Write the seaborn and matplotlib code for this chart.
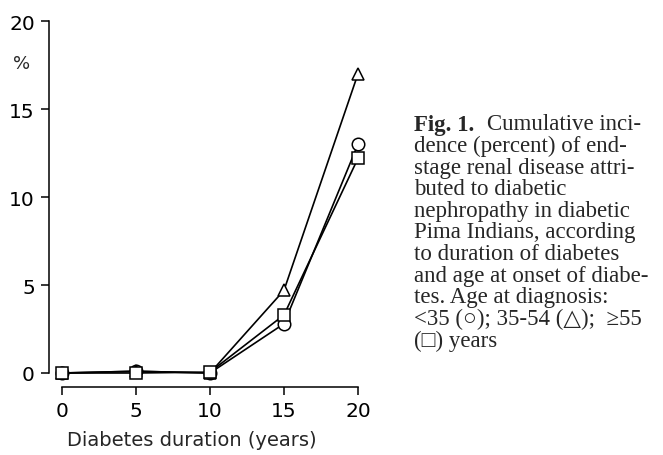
import matplotlib

matplotlib.use("Agg")  # headless backend
import matplotlib.pyplot as plt  # noqa: E402
import seaborn as sns  # noqa: E402
import pandas as pd  # noqa: E402

# data
duration = [0, 5, 10, 15, 20]
under_35 = [0.0, 0.1, 0.0, 2.8, 13.0]
age_35_54 = [0.0, 0.1, 0.0, 4.7, 17.0]
over_55 = [0.0, 0.0, 0.05, 3.3, 12.2]

yticks = [0, 5, 10, 15, 20]
xticks = [0, 5, 10, 15, 20]

caption_lines = [
    "dence (percent) of end-",
    "stage renal disease attri-",
    "buted to diabetic",
    "nephropathy in diabetic",
    "Pima Indians, according",
    "to duration of diabetes",
    "and age at onset of diabe-",
    "tes. Age at diagnosis:",
    "<35 (○); 35-54 (△);  ≥55",
    "(□) years",
]

sns.set_style("ticks")
plt.rcParams["font.family"] = ["DejaVu Sans"]

fig = plt.figure(figsize=(6.63, 4.56), dpi=100)
ax = fig.add_axes([62 / 663, 82 / 456, 296 / 663, 352 / 456])

series = [(under_35, "o"), (age_35_54, "^"), (over_55, "s")]
for values, mk in series:
    df = pd.DataFrame({"duration": duration, "pct": values})
    sns.lineplot(data=df, x="duration", y="pct", ax=ax, color="black",
                 linewidth=1.2, marker=mk, markersize=9,
                 markerfacecolor="white", markeredgecolor="black",
                 markeredgewidth=1.1, clip_on=False, legend=False)

ax.set_xlim(0, 20)
ax.set_ylim(0, 20)
ax.set_xticks(xticks)
ax.set_yticks(yticks)
ax.set_xlabel("")
ax.set_ylabel("")
sns.despine(ax=ax)
ax.spines["left"].set_position(("outward", 9.5))
ax.spines["bottom"].set_position(("outward", 10))
for s in ("left", "bottom"):
    ax.spines[s].set_linewidth(1.1)
    ax.spines[s].set_color("black")
ax.tick_params(axis="both", direction="out", length=6, width=1.1,
               colors="black", labelsize=14.5, pad=4)

ax.text(-0.135, 0.88, "%", transform=ax.transAxes, fontsize=13,
        ha="center", va="center")
fig.text(67 / 663, 1 - 441 / 456, "Diabetes duration (years)", fontsize=14,
         ha="left", va="center")

# figure caption on the right
serif = ["Liberation Serif", "DejaVu Sans"]
x0 = 414 / 663
y0 = 125
dy = 21.6
fig.text(x0, 1 - y0 / 456, "Fig. 1.", fontsize=16.5, fontweight="bold",
         family=serif, ha="left", va="center")
fig.text(487 / 663, 1 - y0 / 456, "Cumulative inci-", fontsize=16.5,
         family=serif, ha="left", va="center")
for i, line in enumerate(caption_lines, start=1):
    fig.text(x0, 1 - (y0 + i * dy) / 456, line, fontsize=16.5, family=serif,
             ha="left", va="center")

fig.savefig("out.png", dpi=100)
plt.close(fig)
